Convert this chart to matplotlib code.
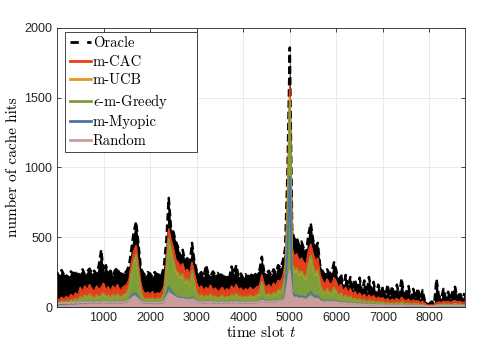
import matplotlib
matplotlib.use("Agg")
import matplotlib.pyplot as plt
import numpy as np

plt.rcParams['font.family'] = ['Liberation Sans', 'DejaVu Sans']
plt.rcParams['mathtext.fontset'] = 'cm'

# time slots (one reading every 50 slots)
slots = np.arange(0, 8800, 50)

oracle = [250, 215, 265, 230, 240, 200, 255, 235, 260, 220,
          245, 270, 230, 255, 275, 240, 260, 235, 300, 410,
          250, 300, 240, 260, 225, 265, 280, 230, 250, 240,
          260, 300, 420, 540, 612, 450, 280, 245, 225, 250,
          240, 215, 250, 230, 245, 225, 300, 480, 782, 560,
          540, 470, 430, 360, 410, 330, 350, 300, 460, 330,
          260, 230, 250, 215, 300, 240, 225, 255, 230, 245,
          220, 245, 200, 230, 210, 290, 235, 300, 215, 240,
          205, 235, 210, 245, 220, 230, 250, 265, 360, 250,
          240, 260, 225, 270, 245, 300, 280, 330, 420, 960,
          1860, 560, 480, 500, 440, 470, 420, 380, 520, 600,
          480, 430, 460, 300, 260, 230, 270, 240, 250, 320,
          260, 150, 240, 130, 230, 140, 215, 120, 200, 110,
          210, 110, 190, 95, 215, 120, 180, 85, 160, 100,
          145, 70, 160, 75, 150, 60, 160, 80, 205, 90,
          110, 150, 60, 130, 65, 135, 55, 120, 45, 35,
          25, 40, 20, 200, 80, 60, 130, 60, 110, 55,
          120, 145, 60, 110, 50, 100]

m_cac = [60, 50, 70, 55, 75, 60, 90, 70, 100, 80,
         140, 110, 150, 120, 160, 130, 110, 150, 125, 140,
         170, 120, 145, 110, 150, 125, 160, 115, 135, 150,
         160, 200, 320, 400, 440, 300, 170, 110, 95, 105,
         90, 110, 85, 100, 95, 110, 150, 330, 560, 480,
         420, 340, 320, 290, 310, 250, 270, 230, 320, 240,
         170, 130, 150, 115, 140, 125, 155, 120, 135, 110,
         120, 140, 110, 130, 115, 150, 125, 160, 120, 135,
         110, 130, 115, 140, 120, 130, 145, 150, 230, 160,
         140, 160, 130, 170, 150, 190, 180, 220, 300, 780,
         1580, 420, 360, 380, 330, 350, 320, 300, 400, 450,
         380, 330, 350, 230, 190, 160, 200, 170, 160, 210,
         180, 130, 160, 110, 140, 100, 130, 90, 110, 80,
         100, 70, 90, 60, 85, 65, 80, 55, 70, 60,
         65, 45, 60, 40, 55, 45, 60, 40, 70, 50,
         45, 55, 35, 50, 40, 45, 30, 40, 25, 15,
         12, 15, 12, 30, 35, 30, 40, 35, 40, 30,
         40, 45, 35, 40, 30, 35]

m_ucb = [32, 28, 40, 33, 40, 35, 47, 40, 55, 43,
         71, 58, 80, 64, 87, 68, 58, 80, 68, 76,
         95, 66, 80, 58, 83, 68, 87, 64, 76, 85,
         95, 132, 238, 315, 360, 218, 100, 61, 52, 57,
         49, 61, 45, 57, 52, 61, 90, 248, 475, 392,
         325, 252, 233, 205, 224, 171, 190, 152, 248, 162,
         95, 71, 83, 62, 78, 66, 87, 62, 74, 58,
         66, 80, 58, 72, 62, 85, 68, 93, 66, 76,
         58, 72, 62, 80, 66, 72, 85, 90, 171, 95,
         80, 93, 71, 97, 87, 116, 106, 141, 214, 620,
         1500, 305, 247, 266, 228, 247, 218, 200, 290, 352,
         280, 228, 252, 147, 114, 93, 124, 100, 91, 133,
         106, 71, 93, 59, 80, 55, 71, 47, 59, 40,
         55, 36, 47, 28, 44, 32, 40, 25, 36, 28,
         32, 21, 28, 17, 26, 21, 28, 17, 34, 23,
         21, 26, 15, 23, 17, 21, 11, 17, 9, 6,
         5, 6, 5, 12, 15, 12, 18, 15, 18, 12,
         18, 21, 15, 18, 12, 15]

eps_greedy = [35, 30, 42, 35, 42, 38, 50, 42, 58, 46,
              75, 62, 85, 68, 92, 72, 62, 85, 72, 80,
              100, 70, 85, 62, 88, 72, 92, 68, 80, 90,
              100, 140, 250, 330, 375, 230, 105, 65, 55, 60,
              52, 65, 48, 60, 55, 65, 95, 260, 490, 410,
              340, 265, 245, 215, 235, 180, 200, 160, 260, 170,
              100, 75, 88, 66, 82, 70, 92, 66, 78, 62,
              70, 84, 62, 76, 66, 90, 72, 98, 70, 80,
              62, 76, 66, 84, 70, 76, 90, 95, 180, 100,
              84, 98, 75, 102, 92, 122, 112, 148, 225, 650,
              1470, 320, 260, 280, 240, 260, 230, 210, 305, 370,
              295, 240, 265, 155, 120, 98, 130, 105, 96, 140,
              112, 75, 98, 62, 84, 58, 75, 50, 62, 42,
              58, 38, 50, 30, 46, 34, 42, 26, 38, 30,
              34, 22, 30, 18, 28, 22, 30, 18, 36, 24,
              22, 28, 16, 24, 18, 22, 12, 18, 10, 7,
              6, 7, 6, 13, 16, 13, 19, 16, 19, 13,
              19, 22, 16, 19, 13, 16]

m_myopic = [20, 18, 22, 20, 24, 20, 26, 22, 28, 24,
            30, 26, 32, 28, 34, 30, 28, 32, 30, 32,
            36, 30, 34, 28, 34, 30, 36, 30, 32, 34,
            38, 50, 80, 100, 95, 70, 42, 32, 28, 30,
            28, 30, 26, 30, 28, 30, 40, 90, 145, 115,
            95, 80, 70, 65, 68, 58, 62, 52, 70, 55,
            40, 34, 36, 30, 34, 32, 36, 30, 32, 30,
            30, 34, 28, 32, 30, 36, 30, 38, 30, 32,
            28, 32, 30, 34, 30, 32, 36, 38, 60, 40,
            36, 40, 34, 42, 38, 46, 44, 52, 70, 420,
            935, 110, 80, 85, 72, 78, 70, 65, 90, 108,
            88, 72, 80, 52, 44, 38, 46, 40, 38, 48,
            40, 30, 36, 26, 32, 24, 30, 22, 26, 20,
            24, 18, 22, 16, 20, 16, 18, 14, 16, 14,
            15, 11, 14, 10, 13, 11, 14, 10, 15, 11,
            10, 12, 9, 11, 9, 10, 7, 9, 6, 4,
            3, 4, 3, 7, 8, 7, 9, 8, 9, 7,
            9, 10, 8, 9, 7, 8]

random_ = [28, 24, 30, 26, 30, 25, 32, 27, 33, 28,
           34, 30, 36, 31, 37, 32, 30, 35, 32, 34,
           38, 32, 36, 30, 36, 32, 38, 31, 34, 36,
           40, 48, 62, 75, 70, 55, 40, 33, 30, 32,
           30, 33, 29, 32, 30, 33, 40, 70, 100, 90,
           80, 70, 62, 58, 60, 52, 55, 48, 58, 50,
           40, 35, 37, 32, 36, 33, 38, 32, 34, 31,
           31, 35, 29, 33, 31, 36, 31, 38, 31, 33,
           29, 33, 31, 35, 31, 33, 36, 38, 50, 40,
           37, 40, 35, 42, 39, 45, 43, 50, 60, 170,
           260, 85, 65, 68, 60, 63, 58, 54, 66, 75,
           65, 56, 60, 44, 38, 34, 40, 36, 34, 40,
           35, 28, 32, 25, 29, 23, 27, 21, 24, 19,
           22, 17, 20, 15, 19, 15, 17, 13, 15, 13,
           14, 11, 13, 10, 12, 10, 13, 10, 14, 11,
           10, 11, 9, 10, 9, 10, 8, 9, 7, 6,
           5, 6, 5, 8, 9, 8, 10, 9, 10, 8,
           10, 11, 9, 10, 8, 9]

fig = plt.figure(figsize=(4.98, 3.46), dpi=100)
ax = fig.add_axes([0.1145, 0.1127, 0.819, 0.8064])

# filled series, drawn back to front
ax.fill_between(slots, 0, oracle, color='black', lw=0)
ax.plot(slots, oracle, color='black', lw=1.8, ls='--', dashes=(3, 1.5), label='Oracle')
ax.fill_between(slots, 0, m_cac, color='#E6401A', lw=0)
ax.plot(slots, m_cac, color='#E6401A', lw=1.2, label='m-CAC')
ax.fill_between(slots, 0, m_ucb, color='#E8961E', lw=0)
ax.plot(slots, m_ucb, color='#E8961E', lw=1.2, label='m-UCB')
ax.fill_between(slots, 0, eps_greedy, color='#7D9E38', lw=0)
ax.plot(slots, eps_greedy, color='#7D9E38', lw=1.2, label=r'$\epsilon$-m-Greedy')
ax.plot(slots, m_myopic, color='#4C74AA', lw=1.3, label='m-Myopic')
ax.fill_between(slots, 0, random_, color='#CC9C9C', lw=0)
ax.plot(slots, random_, color='#CC9C9C', lw=1.2, label='Random')

ax.set_xlim(1, 8760)
ax.set_ylim(0, 2000)
ax.set_xticks(np.arange(1000, 9000, 1000))
ax.set_yticks(np.arange(0, 2001, 500))
ax.grid(color='0.9', lw=0.6)
ax.set_axisbelow(True)
ax.tick_params(direction='in', top=True, right=True, labelsize=9,
               colors='0.15', length=3, width=0.6)
for s in ax.spines.values():
    s.set_color('0.15')
    s.set_linewidth(0.6)

ax.set_xlabel('time slot $t$', family='cmr10', fontsize=11, labelpad=1)
ax.set_ylabel('number of cache hits', family='cmr10', fontsize=11, labelpad=3)

leg = ax.legend(loc='upper left', bbox_to_anchor=(0.02, 0.0, 0.323, 0.985),
                mode='expand', borderaxespad=0,
                prop={'family': 'cmr10', 'size': 10.5}, fancybox=False,
                edgecolor='0.15', framealpha=1, handlelength=1.5,
                handletextpad=0.1, labelspacing=0.32, borderpad=0.3)
leg.get_frame().set_linewidth(0.6)
for h in leg.get_lines():
    h.set_linewidth(2)
leg.get_lines()[0].set_dashes((3, 3))

fig.savefig('out.png', dpi=100)
